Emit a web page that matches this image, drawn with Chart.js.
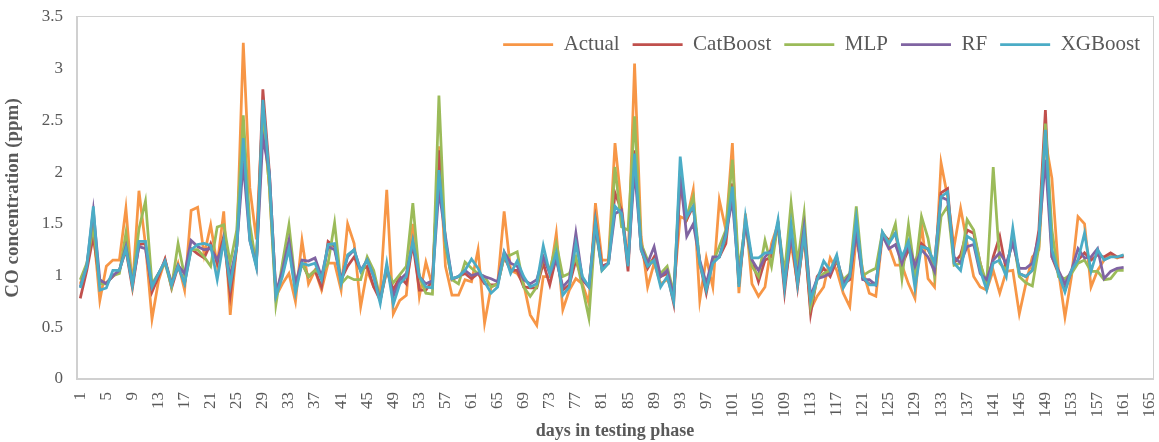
<!DOCTYPE html>
<html>
<head>
<meta charset="utf-8">
<script src="https://cdn.jsdelivr.net/npm/chart.js@4.4.1/dist/chart.umd.min.js"></script>
<style>
  html, body { margin: 0; padding: 0; background: #fff; }
  #wrap { width: 1159px; height: 442px; position: relative; }
  #plotBox { position: absolute; border: 1.5px solid #d0d0d0; box-sizing: border-box; pointer-events: none; }
</style>
</head>
<body>
<div id="wrap"><canvas id="coChart"></canvas><div id="plotBox"></div></div>
<script>
// days 1..165 on the axis, values only up to day 161
const days = Array.from({ length: 165 }, (_, i) => String(i + 1));

const actual = [
  0.92, 1.10, 1.45, 0.76, 1.09, 1.15, 1.15, 1.65, 0.88, 1.82,
  1.30, 0.58, 0.95, 1.15, 0.93, 1.12, 0.86, 1.63, 1.66, 1.20,
  1.49, 1.10, 1.62, 0.62, 1.30, 3.25, 1.85, 1.35, 2.60, 1.85,
  0.80, 0.92, 1.02, 0.75, 1.34, 0.92, 1.05, 0.86, 1.12, 1.12,
  0.86, 1.50, 1.31, 0.70, 1.05, 0.89, 0.83, 1.83, 0.63, 0.76,
  0.81, 1.50, 0.80, 1.13, 0.90, 2.25, 1.09, 0.81, 0.81, 0.96,
  0.94, 1.25, 0.54, 0.89, 0.92, 1.62, 1.05, 1.02, 0.92, 0.62,
  0.52, 0.99, 0.99, 1.41, 0.67, 0.86, 0.97, 0.92, 0.73, 1.70,
  1.15, 1.15, 2.28, 1.67, 1.12, 3.05, 1.38, 0.89, 1.12, 0.92,
  0.96, 0.86, 1.57, 1.54, 1.83, 0.76, 1.17, 0.89, 1.73, 1.44,
  2.28, 0.83, 1.60, 0.92, 0.80, 0.89, 1.31, 1.50, 0.92, 1.31,
  0.92, 1.38, 0.67, 0.80, 0.89, 1.17, 1.05, 0.83, 0.70, 1.38,
  1.05, 0.83, 0.80, 1.38, 1.28, 1.10, 1.10, 0.92, 0.78, 1.50,
  0.97, 0.89, 2.09, 1.76, 1.28, 1.65, 1.31, 0.99, 0.89, 0.86,
  1.05, 0.83, 1.04, 1.05, 0.63, 0.92, 1.18, 1.25, 2.31, 1.94,
  1.05, 0.60, 0.99, 1.57, 1.50, 0.89, 1.05, 1.15, 1.20, 1.17,
  1.20
];

const catBoost = [
  0.78, 1.05, 1.38, 0.93, 0.93, 0.99, 1.05, 1.25, 0.88, 1.30,
  1.31, 0.84, 0.99, 1.16, 0.88, 1.09, 0.93, 1.26, 1.21, 1.17,
  1.31, 1.12, 1.38, 0.81, 1.28, 2.31, 1.38, 1.10, 2.80, 2.00,
  0.83, 1.02, 1.28, 0.88, 1.12, 0.99, 1.05, 0.89, 1.33, 1.28,
  0.96, 1.09, 1.18, 1.05, 1.09, 0.89, 0.76, 1.05, 0.86, 0.99,
  0.92, 1.31, 0.86, 0.86, 0.95, 2.21, 1.31, 0.96, 0.99, 1.02,
  0.97, 1.02, 0.92, 0.91, 0.91, 1.18, 1.05, 1.05, 0.89, 0.88,
  0.88, 1.12, 0.91, 1.18, 0.86, 0.91, 1.15, 0.96, 0.89, 1.54,
  1.09, 1.12, 1.80, 1.63, 1.04, 2.21, 1.25, 1.07, 1.18, 0.99,
  1.02, 0.73, 1.89, 1.54, 1.67, 1.12, 0.83, 1.15, 1.18, 1.31,
  1.89, 0.92, 1.50, 1.15, 0.94, 1.15, 1.18, 1.50, 0.84, 1.41,
  0.89, 1.42, 0.63, 0.99, 1.07, 0.99, 1.15, 0.92, 0.96, 1.44,
  0.97, 0.92, 0.91, 1.41, 1.34, 1.41, 1.10, 1.25, 1.12, 1.31,
  1.25, 1.12, 1.80, 1.84, 1.12, 1.20, 1.44, 1.41, 1.12, 0.88,
  1.18, 1.38, 1.05, 1.38, 1.02, 0.99, 1.05, 1.44, 2.60, 1.18,
  1.02, 0.86, 1.04, 1.15, 1.22, 1.15, 1.20, 1.18, 1.22, 1.18,
  1.18
];

const mlp = [
  0.96, 1.12, 1.47, 0.92, 0.92, 1.00, 1.02, 1.41, 0.92, 1.45,
  1.72, 0.92, 1.02, 1.12, 0.89, 1.31, 0.99, 1.25, 1.25, 1.18,
  1.09, 1.47, 1.49, 1.12, 1.44, 2.55, 1.50, 1.10, 2.54, 1.86,
  0.72, 1.12, 1.49, 0.92, 1.12, 0.99, 1.05, 1.02, 1.12, 1.51,
  0.92, 0.99, 0.96, 0.96, 1.18, 1.05, 0.78, 1.05, 0.93, 1.01,
  1.09, 1.70, 0.99, 0.83, 0.82, 2.74, 1.28, 0.96, 0.92, 1.13,
  1.07, 1.02, 0.99, 0.89, 0.92, 1.18, 1.20, 1.23, 0.89, 0.80,
  0.89, 1.18, 1.05, 1.31, 0.99, 1.02, 1.18, 0.89, 0.59, 1.47,
  1.05, 1.12, 2.05, 1.47, 1.44, 2.54, 1.31, 1.15, 1.12, 1.02,
  1.09, 0.83, 2.02, 1.57, 1.76, 1.12, 0.92, 1.12, 1.28, 1.44,
  2.12, 1.05, 1.50, 1.09, 0.99, 1.34, 1.09, 1.50, 1.02, 1.70,
  1.12, 1.60, 0.70, 0.96, 1.02, 1.05, 1.15, 0.96, 1.02, 1.67,
  1.00, 1.04, 1.07, 1.42, 1.31, 1.50, 0.97, 1.49, 1.02, 1.57,
  1.36, 0.99, 1.57, 1.67, 1.10, 1.12, 1.54, 1.44, 1.12, 0.92,
  2.05, 1.12, 1.05, 1.38, 0.99, 0.93, 0.90, 1.28, 2.47, 1.44,
  0.99, 0.97, 1.02, 1.12, 1.15, 1.04, 1.04, 0.96, 0.97, 1.05,
  1.05
];

const rf = [
  0.89, 1.09, 1.63, 0.96, 0.92, 1.00, 1.05, 1.28, 0.92, 1.28,
  1.26, 0.89, 1.02, 1.14, 0.92, 1.10, 1.02, 1.34, 1.28, 1.25,
  1.26, 1.15, 1.31, 0.99, 1.28, 2.09, 1.34, 1.10, 2.34, 2.00,
  0.83, 1.05, 1.34, 0.92, 1.15, 1.14, 1.17, 0.99, 1.28, 1.25,
  0.96, 1.18, 1.25, 1.05, 1.15, 0.99, 0.76, 1.09, 0.80, 0.96,
  1.02, 1.31, 0.99, 0.92, 0.95, 1.83, 1.38, 0.97, 0.99, 1.05,
  1.00, 1.02, 0.99, 0.97, 0.94, 1.23, 1.12, 1.09, 0.96, 0.92,
  0.96, 1.18, 1.02, 1.15, 0.89, 0.96, 1.41, 0.97, 0.89, 1.47,
  1.07, 1.12, 1.60, 1.63, 1.12, 2.02, 1.28, 1.12, 1.28, 0.99,
  1.05, 0.80, 1.96, 1.38, 1.50, 1.15, 0.92, 1.18, 1.18, 1.41,
  1.73, 0.96, 1.50, 1.15, 1.05, 1.18, 1.25, 1.50, 0.92, 1.38,
  0.99, 1.47, 0.80, 0.97, 0.99, 1.02, 1.18, 0.92, 1.01, 1.41,
  0.96, 0.96, 0.91, 1.39, 1.26, 1.30, 1.12, 1.31, 1.09, 1.25,
  1.18, 1.04, 1.76, 1.73, 1.18, 1.12, 1.28, 1.30, 1.02, 0.96,
  1.15, 1.22, 1.12, 1.31, 1.07, 1.07, 1.12, 1.38, 2.12, 1.18,
  1.05, 0.92, 1.05, 1.26, 1.17, 1.18, 1.26, 0.97, 1.04, 1.07,
  1.08
];

const xgBoost = [
  0.88, 1.09, 1.67, 0.86, 0.88, 1.05, 1.05, 1.26, 0.91, 1.33,
  1.33, 0.89, 1.02, 1.14, 0.91, 1.09, 0.92, 1.25, 1.30, 1.31,
  1.29, 0.96, 1.34, 0.91, 1.28, 2.33, 1.34, 1.08, 2.70, 1.96,
  0.80, 0.99, 1.26, 0.83, 1.12, 1.10, 1.12, 0.96, 1.30, 1.31,
  0.92, 1.20, 1.25, 1.04, 1.15, 0.99, 0.73, 1.12, 0.72, 0.92,
  0.99, 1.34, 0.99, 0.89, 0.88, 2.02, 1.34, 0.97, 0.99, 1.05,
  1.16, 1.07, 0.94, 0.83, 0.89, 1.22, 1.02, 1.14, 0.99, 0.89,
  0.92, 1.29, 1.02, 1.22, 0.81, 0.89, 1.31, 0.99, 0.89, 1.52,
  1.05, 1.12, 1.67, 1.60, 1.09, 2.18, 1.25, 1.09, 1.15, 0.89,
  0.99, 0.75, 2.15, 1.57, 1.67, 1.12, 0.86, 1.12, 1.18, 1.38,
  1.86, 0.89, 1.57, 1.17, 1.17, 1.22, 1.22, 1.54, 0.89, 1.49,
  0.92, 1.41, 0.76, 0.96, 1.14, 1.05, 1.20, 0.88, 0.99, 1.55,
  0.99, 0.91, 0.91, 1.42, 1.31, 1.41, 1.18, 1.33, 0.88, 1.28,
  1.26, 1.12, 1.76, 1.81, 1.12, 1.05, 1.38, 1.34, 1.05, 0.86,
  1.12, 1.15, 0.99, 1.46, 1.02, 0.99, 1.05, 1.34, 2.41, 1.25,
  1.02, 0.84, 1.05, 1.15, 1.41, 1.04, 1.25, 1.15, 1.18, 1.18,
  1.20
];

const seriesNames  = ['Actual', 'CatBoost', 'MLP', 'RF', 'XGBoost'];
const seriesData   = [actual, catBoost, mlp, rf, xgBoost];
const seriesColors = ['#f79646', '#c0504d', '#9bbb59', '#8064a2', '#4bacc6'];

const serif = "'Liberation Serif', 'Times New Roman', serif";
const grey  = '#595959';
const frame = '#d0d0d0';

// legend sits inside the plot: no layout height, but keep a drawing box for its clip
const legendInside = {
  id: 'legendInside',
  afterInit(chart) {
    const fit = chart.legend.fit;
    chart.legend.fit = function () {
      fit.call(this);
      this.height = 0;
    };
  },
  afterLayout(chart) {
    const lg = chart.legend;
    lg.top += 4;
    lg.height = 60;
    lg.bottom = lg.top + 60;
  }
};

// keep the grey box glued to whatever chart area the layout produced
const placeBox = chart => {
  const a = chart.chartArea;
  const box = document.getElementById('plotBox');
  box.style.left   = (a.left - 1) + 'px';
  box.style.top    = (a.top - 1) + 'px';
  box.style.width  = (a.right - a.left + 2) + 'px';
  box.style.height = (a.bottom - a.top + 2) + 'px';
};

const boxSync = { id: 'boxSync', afterRender: placeBox };

const coChart = new Chart(document.getElementById('coChart'), {
  type: 'line',
  data: {
    labels: days,
    datasets: seriesNames.map((name, i) => ({
      label: name,
      data: seriesData[i],
      borderColor: seriesColors[i],
      backgroundColor: seriesColors[i],
      borderWidth: 2.75,
      pointRadius: 0,
      tension: 0,
      order: seriesNames.length - i
    }))
  },
  options: {
    responsive: true,
    maintainAspectRatio: false,
    animation: false,
    layout: { padding: { top: 17, right: 6, bottom: 0, left: 2 } },
    plugins: {
      tooltip: { enabled: false },
      legend: {
        position: 'top',
        align: 'end',
        labels: {
          usePointStyle: true,
          pointStyle: 'line',
          pointStyleWidth: 50,
          boxHeight: 21,
          padding: 13,
          color: grey,
          font: { family: serif, size: 21 },
          sort: (a, b) => a.datasetIndex - b.datasetIndex
        }
      }
    },
    scales: {
      x: {
        offset: true,
        grid: { display: false, drawTicks: false },
        border: { display: true, color: frame, width: 2 },
        ticks: {
          autoSkip: false,
          maxRotation: 90,
          minRotation: 90,
          padding: 13,
          color: grey,
          font: { family: serif, size: 17 },
          callback: (v, i) => (i % 4 === 0 ? days[i] : '')
        },
        title: {
          display: true,
          text: 'days in testing phase',
          color: grey,
          font: { family: serif, size: 18, weight: 'bold' },
          padding: { top: 0, bottom: 0 }
        },
        afterFit: s => { s.height = 63; s.paddingLeft = 0; s.paddingRight = 0; }
      },
      y: {
        min: 0,
        max: 3.5,
        grid: { display: false, drawTicks: false },
        border: { display: true, color: frame, width: 2 },
        ticks: {
          stepSize: 0.5,
          padding: 14,
          color: grey,
          font: { family: serif, size: 17 },
          callback: v => String(v)
        },
        title: {
          display: true,
          text: 'CO concentration (ppm)',
          color: grey,
          font: { family: serif, size: 19, weight: 'bold' },
          padding: { top: 0, bottom: 4 }
        },
        afterFit: s => { s.width = 75; s.paddingTop = 0; s.paddingBottom = 0; }
      }
    }
  },
  plugins: [legendInside, boxSync]
});

placeBox(coChart);
</script>
</body>
</html>
